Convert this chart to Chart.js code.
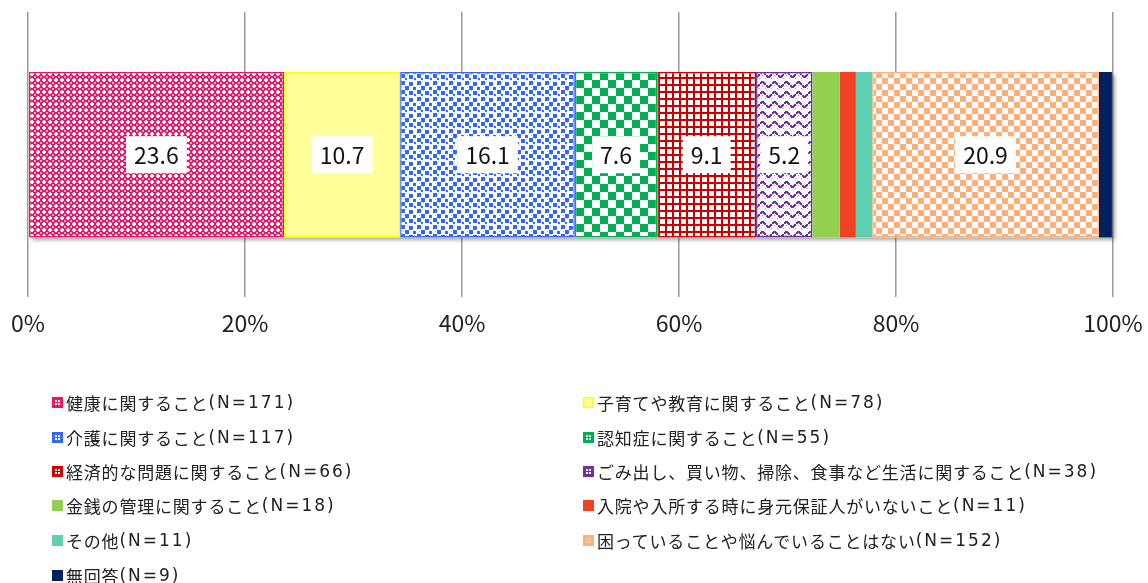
<!DOCTYPE html>
<html lang="ja">
<head>
<meta charset="utf-8">
<script src="https://cdn.jsdelivr.net/npm/chart.js@4.4.1/dist/chart.umd.min.js"></script>
<style>
  html, body { margin: 0; padding: 0; background: #fff; }
  body { width: 1148px; height: 583px; position: relative; overflow: hidden;
         font-family: "DejaVu Sans", "Noto Sans CJK JP", sans-serif; }
  #wrap { position: absolute; left: 0; top: 0; width: 1148px; height: 359px; }
  #legend { position: absolute; left: 0; top: 0; width: 1148px; height: 583px; pointer-events: none; }
  .item { position: absolute; height: 24px; display: flex; align-items: center;
          font-size: 17px; color: #222; white-space: nowrap; letter-spacing: 0.8px; }
  .item canvas { width: 11px; height: 11px; margin-right: 3px; }
  .lat { letter-spacing: 2px; }
</style>
</head>
<body>
<div id="wrap"><canvas id="c"></canvas></div>
<div id="legend"></div>
<script>
// ---- data ----
const categories = [
  "健康に関すること(N=171)",
  "子育てや教育に関すること(N=78)",
  "介護に関すること(N=117)",
  "認知症に関すること(N=55)",
  "経済的な問題に関すること(N=66)",
  "ごみ出し、買い物、掃除、食事など生活に関すること(N=38)",
  "金銭の管理に関すること(N=18)",
  "入院や入所する時に身元保証人がいないこと(N=11)",
  "その他(N=11)",
  "困っていることや悩んでいることはない(N=152)",
  "無回答(N=9)"
];
const values = [23.6, 10.7, 16.1, 7.6, 9.1, 5.2, 2.5, 1.5, 1.5, 20.9, 1.2];
const tickValues = [0, 20, 40, 60, 80, 100];
const tickSuffix = "%";
const labelMin = 5;

// ---- styles ----
const colors = ["#EE1468", "#FFFF00", "#3366FF", "#00B050", "#CC0000", "#7030A0",
                "#92D050", "#F04124", "#5ECFB1", "#FFB07A", "#002060"];
const kinds  = ["pink", "yellow", "blue", "green", "grid", "zigzag",
                "solid", "solid", "solid", "checker", "solid"];

function makeTile(kind, color) {
  const c = document.createElement("canvas");
  const x = c.getContext("2d");
  if (kind === "pink") {
    c.width = 6; c.height = 6;
    x.fillStyle = color; x.fillRect(0, 0, 6, 6);
    x.fillStyle = "#fff";
    x.fillRect(1, 0, 2, 1); x.fillRect(0, 1, 4, 2); x.fillRect(1, 3, 2, 1);
    x.fillStyle = "#F9A6C4"; x.fillRect(4, 4, 2, 2);
  } else if (kind === "yellow") {
    c.width = 2; c.height = 2;
    x.fillStyle = "#FFFF99"; x.fillRect(0, 0, 2, 2);
  } else if (kind === "blue") {
    c.width = 16; c.height = 16;
    x.fillStyle = "#fff"; x.fillRect(0, 0, 16, 16);
    x.fillStyle = color;
    [[1,1,4],[9,2,4],[5,6,4],[13,7,3],[1,10,4],[9,11,4],[5,14,2],[14,14,2]].forEach(p => x.fillRect(p[0], p[1], p[2], p[2]));
    x.fillStyle = "#9DB5FF";
    [[6,1],[12,5],[3,7],[14,11],[7,10]].forEach(p => x.fillRect(p[0], p[1], 1, 1));
  } else if (kind === "green") {
    c.width = 16; c.height = 16;
    x.fillStyle = "#fff"; x.fillRect(0, 0, 16, 16);
    x.fillStyle = color; x.fillRect(0, 0, 8, 8); x.fillRect(8, 8, 8, 8);
  } else if (kind === "grid") {
    c.width = 7; c.height = 7;
    x.fillStyle = "#fff"; x.fillRect(0, 0, 7, 7);
    x.fillStyle = color; x.fillRect(0, 0, 2, 7); x.fillRect(0, 0, 7, 2);
  } else if (kind === "zigzag") {
    c.width = 12; c.height = 10;
    x.fillStyle = "#fff"; x.fillRect(0, 0, 12, 10);
    x.fillStyle = color;
    for (let i = 0; i < 6; i++) { if (i !== 3) { x.fillRect(i, 6 - i, 2, 2); x.fillRect(6 + i, 1 + i, 2, 2); } }
    x.fillStyle = "#B590D0";
    x.fillRect(3, 8, 1, 1); x.fillRect(9, 8, 1, 1); x.fillRect(6, 5, 1, 1);
  } else if (kind === "checker") {
    c.width = 12; c.height = 12;
    x.fillStyle = "#fff"; x.fillRect(0, 0, 12, 12);
    x.fillStyle = color; x.fillRect(0, 0, 6, 6); x.fillRect(6, 6, 6, 6);
  } else {
    c.width = 2; c.height = 2;
    x.fillStyle = color; x.fillRect(0, 0, 2, 2);
  }
  return c;
}

const ctx = document.getElementById("c").getContext("2d");
const fills = kinds.map((k, i) => ctx.createPattern(makeTile(k, colors[i]), "repeat"));

const datasets = values.map((v, i) => ({
  label: categories[i],
  data: [v],
  backgroundColor: fills[i],
  borderColor: colors[i],
  borderWidth: kinds[i] === "solid" ? 0 : 1.5,
  borderSkipped: false,
  barPercentage: 0.58,
  categoryPercentage: 1
}));

const shadowPlugin = {
  id: "shadow",
  beforeDatasetsDraw(chart) {
    const c = chart.ctx;
    let l = Infinity, r = -Infinity, t = 0, b = 0;
    chart.data.datasets.forEach((d, i) => {
      const el = chart.getDatasetMeta(i).data[0];
      l = Math.min(l, el.base, el.x); r = Math.max(r, el.base, el.x);
      t = el.y - el.height / 2; b = el.y + el.height / 2;
    });
    c.save();
    c.shadowColor = "rgba(0,0,0,0.35)";
    c.shadowBlur = 4; c.shadowOffsetX = 3; c.shadowOffsetY = 3;
    c.fillStyle = "#fff";
    c.fillRect(l, t, r - l, b - t);
    c.restore();
  }
};

const labelPlugin = {
  id: "boxLabels",
  afterDatasetsDraw(chart) {
    const c = chart.ctx;
    c.save();
    c.font = '23px "Noto Sans CJK JP", sans-serif';
    c.textAlign = "center"; c.textBaseline = "middle";
    chart.data.datasets.forEach((d, i) => {
      const v = d.data[0];
      if (v < labelMin) return;
      const el = chart.getDatasetMeta(i).data[0];
      const cx = (el.x + el.base) / 2, cy = el.y;
      const txt = v.toFixed(1);
      const w = c.measureText(txt).width + 16, h = 37;
      c.fillStyle = "#fff";
      c.fillRect(cx - w / 2, cy - h / 2, w, h);
      c.fillStyle = "#111";
      c.fillText(txt, cx, cy + 1);
    });
    c.restore();
  }
};

new Chart(ctx, {
  type: "bar",
  data: { labels: [""], datasets },
  options: {
    indexAxis: "y",
    responsive: true,
    maintainAspectRatio: false,
    animation: false,
    layout: { padding: { left: 28, right: 35, top: 12, bottom: 10 } },
    plugins: { legend: { display: false }, tooltip: { enabled: false } },
    scales: {
      x: {
        stacked: true, min: 0, max: 100,
        afterBuildTicks(axis) { axis.ticks = tickValues.map(v => ({ value: v })); },
        afterFit(axis) { axis.paddingLeft = 0; axis.paddingRight = 0; },
        grid: { color: "#9a9a9a", lineWidth: 1.5, drawTicks: false },
        border: { display: false },
        ticks: {
          padding: 12, color: "#222", autoSkip: false, maxRotation: 0,
          font: { size: 23, family: '"Noto Sans CJK JP", sans-serif' },
          callback: v => v + tickSuffix
        }
      },
      y: { stacked: true, display: false }
    }
  },
  plugins: [shadowPlugin, labelPlugin]
});

// ---- HTML legend ----
const legend = document.getElementById("legend");
const rowY = [402, 437, 471, 505, 540, 575];
const colX = [52, 583];
categories.forEach((name, i) => {
  const div = document.createElement("div");
  div.className = "item";
  div.style.left = colX[i % 2] + "px";
  div.style.top = (rowY[Math.floor(i / 2)] - 12) + "px";
  const m = document.createElement("canvas");
  m.width = 11; m.height = 11;
  const mc = m.getContext("2d");
  mc.fillStyle = kinds[i] === "yellow" ? "#FFFF99" : colors[i];
  mc.fillRect(0, 0, 11, 11);
  if (kinds[i] !== "solid") {
    mc.strokeStyle = colors[i]; mc.lineWidth = 1.5; mc.strokeRect(0.75, 0.75, 9.5, 9.5);
    if (kinds[i] !== "yellow") {
      mc.fillStyle = kinds[i] === "checker" ? "#FFD0B0" : "#fff";
      mc.fillRect(3, 3, 5, 5);
      mc.fillStyle = colors[i];
      mc.fillRect(5, 3, 1, 5);
      mc.fillRect(3, 5, 5, 1);
    }
  }
  div.appendChild(m);
  const k = name.indexOf("(N=");
  const a = document.createElement("span");
  a.textContent = name.slice(0, k);
  const b = document.createElement("span");
  b.className = "lat";
  b.textContent = name.slice(k);
  div.appendChild(a);
  div.appendChild(b);
  legend.appendChild(div);
});
</script>
</body>
</html>
